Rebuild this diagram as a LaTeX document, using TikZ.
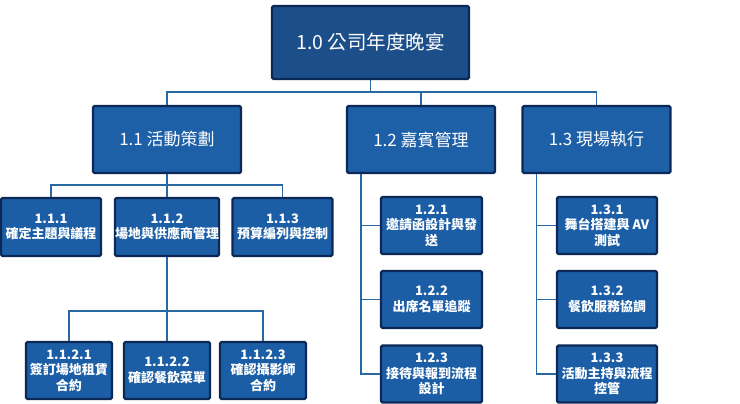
\documentclass[tikz,border=0pt]{standalone}
\usepackage{fontspec}
\setmainfont{Noto Sans CJK TC}
\definecolor{rootfill}{HTML}{1C4E8A}
\definecolor{lonefill}{HTML}{1D60A8}
\definecolor{kidfill}{HTML}{1B5EA5}
\definecolor{edge}{HTML}{0C2856}
\definecolor{conncol}{HTML}{2A68A3}
\tikzset{
  box/.style={draw=edge, line width=2.2pt, rounded corners=1.5pt, text=white, align=center, inner sep=0pt},
  rootbox/.style={box, fill=rootfill, minimum width=197, minimum height=73, font=\fontsize{19.5}{23}\selectfont},
  lonebox/.style={box, fill=lonefill, minimum width=148, minimum height=67, font=\fontsize{17}{20}\selectfont},
  kidbox/.style={box, fill=kidfill, minimum width=100, minimum height=58, font=\bfseries\fontsize{13}{15.5}\selectfont},
  leafbox/.style={box, fill=kidfill, minimum width=86, minimum height=57, font=\bfseries\fontsize{13}{15.5}\selectfont},
  conn/.style={draw=conncol, line width=1.7pt},
}
\begin{document}
\begin{tikzpicture}[x=1pt,y=-1pt]
\useasboundingbox[fill=white] (0,0) rectangle (740,404);
\node[rootbox] (root) at (370.5,42.5) {1.0 公司年度晚宴};
\node[lonebox] (l1) at (167,139.5) {1.1 活動策劃};
\node[lonebox] (l2) at (421,139.5) {1.2 嘉賓管理};
\node[lonebox] (l3) at (596.5,139.5) {1.3 現場執行};
\node[kidbox] (a1) at (51,227) {1.1.1\\確定主題與議程};
\node[kidbox] (a2) at (167,227) {1.1.2\\場地與供應商管理};
\node[kidbox] (a3) at (282.5,227) {1.1.3\\預算編列與控制};
\node[leafbox] (c1) at (69,370.5) {1.1.2.1\\簽訂場地租賃\\合約};
\node[leafbox] (c2) at (167,370.5) {1.1.2.2\\確認餐飲菜單};
\node[leafbox] (c3) at (263,370.5) {1.1.2.3\\確認攝影師\\合約};
\node[kidbox, minimum width=101, minimum height=57] (d1) at (431.5,225.5) {1.2.1\\邀請函設計與發\\送};
\node[kidbox, minimum width=101, minimum height=57] (d2) at (431.5,299.5) {1.2.2\\出席名單追蹤};
\node[kidbox, minimum width=101, minimum height=57] (d3) at (431.5,374) {1.2.3\\接待與報到流程\\設計};
\node[kidbox, minimum height=57] (e1) at (607,225.5) {1.3.1\\舞台搭建與 AV\\測試};
\node[kidbox, minimum height=57] (e2) at (607,299.5) {1.3.2\\餐飲服務協調};
\node[kidbox, minimum height=57] (e3) at (607,374) {1.3.3\\活動主持與流程\\控管};
\coordinate (b0) at (370.5,92);
\coordinate (b1) at (167,185);
\coordinate (b2) at (167,311);
\coordinate (s2) at ([xshift=15pt]l2.south west);
\coordinate (s3) at ([xshift=15pt]l3.south west);
\draw[conn] (root.south) -- (b0);
\draw[conn] (l1.north) |- (b0) -| (l3.north);
\draw[conn] (l2.north) -- (l2.north |- b0);
\draw[conn] (l1.south) -- (b1);
\draw[conn] (a1.north) |- (b1) -| (a3.north);
\draw[conn] (a2.north) -- (b1);
\draw[conn] (a2.south) -- (b2);
\draw[conn] (c1.north) |- (b2) -| (c3.north);
\draw[conn] (c2.north) -- (b2);
\draw[conn] (s2) |- (d3.west);
\draw[conn] (d1.west) -- (d1.west -| s2);
\draw[conn] (d2.west) -- (d2.west -| s2);
\draw[conn] (s3) |- (e3.west);
\draw[conn] (e1.west) -- (e1.west -| s3);
\draw[conn] (e2.west) -- (e2.west -| s3);
\end{tikzpicture}
\end{document}
